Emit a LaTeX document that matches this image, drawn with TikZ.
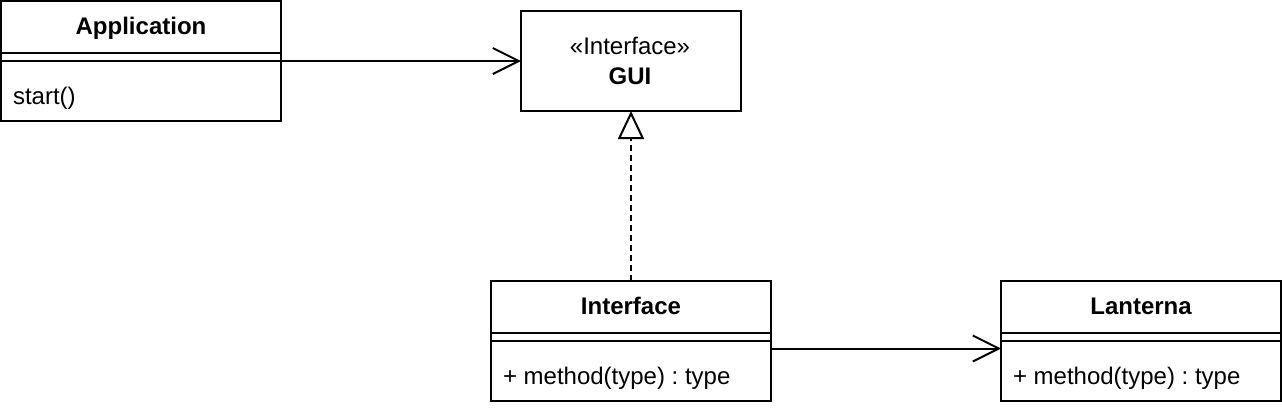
\documentclass[tikz,border=0pt]{standalone}
\usepackage{fontspec}
\setmainfont{Liberation Sans}
\usetikzlibrary{arrows.meta}
\frenchspacing
\begin{document}
\begin{tikzpicture}[x=1pt,y=-1pt, line width=2pt,
  box/.style={draw, line width=2pt, rectangle, inner sep=0pt, outer sep=0pt, anchor=north west, minimum width=280pt, minimum height=120pt},
  gbox/.style={draw, line width=2pt, rectangle, inner sep=0pt, outer sep=0pt, anchor=north west, minimum width=220pt, minimum height=100pt},
  txt/.style={inner sep=0pt, font=\fontsize{24}{28}\selectfont},
  btxt/.style={inner sep=0pt, font=\fontsize{24}{28}\selectfont\bfseries},
  assoc/.style={-{Straight Barb[length=26pt,width=26pt]}},
  realize/.style={dash pattern=on 6pt off 4pt, -{Triangle[open,length=28pt,width=26pt,fill=white]}}
]
\useasboundingbox (0,0) rectangle (1282,408);

% Application
\node[box] (app) at (1,1) {};
\draw (app.north west) ++(0,52) coordinate (a1) -- (a1 -| app.east);
\draw (app.north west) ++(0,60) coordinate (a2) -- (a2 -| app.east);
\node[btxt, anchor=base] (appT) at (141,34) {Application};
\node[txt, anchor=base west] (appM) at (12,104) {start()};

% GUI
\node[gbox] (gui) at (521,11) {};
\node[txt, anchor=base] (guiS) at (630,54) {«Interface»};
\node[btxt, anchor=base] (guiT) at (630,84) {GUI};

% Interface
\node[box] (ifc) at (491,281) {};
\draw (ifc.north west) ++(0,52) coordinate (i1) -- (i1 -| ifc.east);
\draw (ifc.north west) ++(0,60) coordinate (i2) -- (i2 -| ifc.east);
\node[btxt, anchor=base] (ifcT) at (631,314) {Interface};
\node[txt, anchor=base west] (ifcM) at (502,384) {+ method(type) : type};

% Lanterna
\node[box] (lan) at (1001,281) {};
\draw (lan.north west) ++(0,52) coordinate (l1) -- (l1 -| lan.east);
\draw (lan.north west) ++(0,60) coordinate (l2) -- (l2 -| lan.east);
\node[btxt, anchor=base] (lanT) at (1141,314) {Lanterna};
\node[txt, anchor=base west] (lanM) at (1012,384) {+ method(type) : type};

% connectors
\coordinate (c1) at (281,61);
\draw[assoc] (c1) -- (c1 -| gui.west);
\draw[realize] (ifc.north -| gui.south) -- (gui.south);
\coordinate (c2) at (771,348.5);
\draw[assoc] (c2) -- (c2 -| lan.west);
\end{tikzpicture}
\end{document}
